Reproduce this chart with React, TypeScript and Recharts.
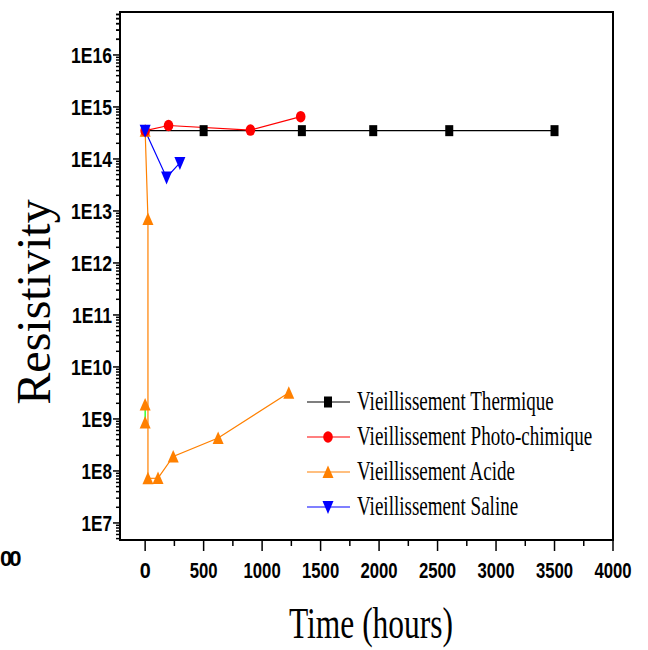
import { LineChart, Line, XAxis, YAxis, Legend, Label, ReferenceArea } from "recharts";

// time in hours, resistivity values
const thermT = [0, 500, 1340, 1950, 2600, 3500];
const thermR = [3.5e14, 3.5e14, 3.5e14, 3.5e14, 3.5e14, 3.5e14];
const photoT = [0, 200, 900, 1330];
const photoR = [3.5e14, 4.4e14, 3.6e14, 6.5e14];
const acideT = [0, 24, 24, 110, 240, 624, 1228];
const acideR = [3.5e14, 7e12, 7.2e7, 7.3e7, 1.9e8, 4.3e8, 3.2e9];
const acide0T = [0, 0];
const acide0R = [1.9e9, 8.5e8];
const salineT = [0, 183, 297];
const salineR = [3.5e14, 4.4e13, 8.4e13];

const xMajor = [0, 500, 1000, 1500, 2000, 2500, 3000, 3500, 4000];
const xMinor = [250, 750, 1250, 1750, 2250, 2750, 3250, 3750];
const yMajor = [1e7, 1e8, 1e9, 1e10, 1e11, 1e12, 1e13, 1e14, 1e15, 1e16];
const yLabels = ["1E7", "1E8", "1E9", "1E10", "1E11", "1E12", "1E13", "1E14", "1E15", "1E16"];
const yMinorMult = [2, 3, 4, 5, 6, 7, 8, 9];

const legendNames = [
  "Vieillissement Thermique",
  "Vieillissement Photo-chimique",
  "Vieillissement Acide",
  "Vieillissement Saline",
];
const colors = ["#000000", "#ff0000", "#ff8000", "#0000ff"];

const toRows = (t: number[], r: number[]) => t.map((v, i) => ({ t: v, r: r[i] }));

const yMinor: number[] = [];
yMajor.forEach((d) => yMinorMult.forEach((m) => yMinor.push(d * m)));
yMinor.unshift(5e6, 6e6, 7e6, 8e6, 9e6);
yMinor.push(2e16, 3e16, 4e16, 5e16, 6e16);
const yTicks = [...yMajor, ...yMinor];
const xTicks = [...xMajor, ...xMinor];

const xDomain = [-215, 4000];
const yDomain = [4.7e6, 6.7e16];

const tickFont = { fontFamily: "'Liberation Sans', Arial, sans-serif", fontWeight: 700, fontSize: 22, fill: "#000" };
const serif = "'Liberation Serif', 'Times New Roman', serif";

function marker(kind: number, cx: number, cy: number, key?: string) {
  const c = colors[kind];
  if (kind === 0) return <rect key={key} x={cx - 4} y={cy - 5.5} width={8} height={11} fill={c} />;
  if (kind === 1) return <ellipse key={key} cx={cx} cy={cy} rx={4.8} ry={5.8} fill={c} />;
  if (kind === 2)
    return <path key={key} d={`M${cx},${cy - 6.5}L${cx + 5.5},${cy + 6}L${cx - 5.5},${cy + 6}Z`} fill={c} />;
  return <path key={key} d={`M${cx},${cy + 7}L${cx + 5.5},${cy - 6}L${cx - 5.5},${cy - 6}Z`} fill={c} />;
}

const dotFor = (kind: number) => (p: any) => marker(kind, p.cx, p.cy, `d${kind}-${p.index}`);

function YTick(props: any) {
  const { x, y, payload } = props;
  if (y < 12) return <g />;
  const i = yMajor.indexOf(payload.value);
  const major = i >= 0;
  const label = major ? yLabels[i] : "";
  const sx = label.length === 4 ? 0.8 : 0.78;
  return (
    <g>
      <line x1={x - (major ? 7 : 4)} x2={x} y1={y} y2={y} stroke="#000" strokeWidth={1.5} />
      {major && (
        <text transform={`translate(${x - 8},${y}) scale(${sx},1)`} dy="0.36em" textAnchor="end" {...tickFont}>
          {label}
        </text>
      )}
    </g>
  );
}

function XTick(props: any) {
  const { x, y, payload } = props;
  const major = xMajor.includes(payload.value);
  const label = String(payload.value);
  return (
    <g>
      <line x1={x} x2={x} y1={y} y2={y + (major ? 11 : 6)} stroke="#000" strokeWidth={1.5} />
      {major && (
        <text transform={`translate(${x},${y + 38}) scale(${label.length === 1 ? 0.9 : 0.76},1)`}
          textAnchor="middle" {...tickFont}>
          {label}
        </text>
      )}
    </g>
  );
}

function LegendBox() {
  return (
    <svg width={320} height={150}>
      {legendNames.map((n, i) => {
        const cy = 22 + i * 35;
        return (
          <g key={n}>
            <line x1={7} x2={50} y1={cy} y2={cy} stroke={colors[i]} strokeWidth={1.2} />
            {marker(i, 28, cy)}
            <text transform={`translate(57,${cy + 8}) scale(0.68,1)`} fontFamily={serif}
              fontSize={28} fill="#000">
              {n}
            </text>
          </g>
        );
      })}
    </svg>
  );
}

export default function App() {
  return (
    <div style={{ position: "absolute", left: 0, top: 0, width: 648, height: 650, background: "#fff" }}>
      <LineChart width={648} height={650} margin={{ top: 12, right: 35, left: 0, bottom: 20 }}>
        <XAxis dataKey="t" type="number" domain={xDomain} allowDataOverflow ticks={xTicks}
          tick={<XTick />} tickSize={0} tickMargin={0} tickLine={false} height={90}
          axisLine={{ stroke: "#000", strokeWidth: 2 }} interval={0}>
          <Label content={() => (
            <text transform="translate(371,638) scale(0.7,1)" textAnchor="middle" fontFamily={serif}
              fontSize={45} fill="#000">Time (hours)</text>
          )} />
        </XAxis>
        <YAxis dataKey="r" type="number" scale="log" domain={yDomain} allowDataOverflow
          ticks={yTicks} tick={<YTick />} tickSize={0} tickMargin={0} tickLine={false} width={120}
          axisLine={{ stroke: "#000", strokeWidth: 2 }} interval={0}>
          <Label content={() => (
            <text transform="translate(50,302) rotate(-90)" textAnchor="middle" fontFamily={serif}
              fontSize={48} fill="#000">Resistivity</text>
          )} />
        </YAxis>
        <ReferenceArea x1={xDomain[0]} x2={xDomain[1]} y1={yDomain[0]} y2={yDomain[1]} fill="none"
          stroke="#000" strokeWidth={2} ifOverflow="visible" />
        <Legend layout="vertical" align="center" verticalAlign="middle" content={<LegendBox />}
          wrapperStyle={{ position: "absolute", left: 300, top: 380, width: 320, height: 150 }} />
        <Line data={toRows(thermT, thermR)} dataKey="r" stroke="#000" strokeWidth={1.2} dot={dotFor(0)}
          isAnimationActive={false} name={legendNames[0]} />
        <Line data={toRows(acide0T, acide0R)} dataKey="r" stroke="#00ff00" strokeWidth={1.2} dot={dotFor(2)}
          isAnimationActive={false} legendType="none" />
        <Line data={toRows(acideT, acideR)} dataKey="r" stroke="#ff8000" strokeWidth={1.2} dot={dotFor(2)}
          isAnimationActive={false} name={legendNames[2]} />
        <Line data={toRows(photoT, photoR)} dataKey="r" stroke="#ff0000" strokeWidth={1.2} dot={dotFor(1)}
          isAnimationActive={false} name={legendNames[1]} />
        <Line data={toRows(salineT, salineR)} dataKey="r" stroke="#0000ff" strokeWidth={1.2} dot={dotFor(3)}
          isAnimationActive={false} name={legendNames[3]} />
      </LineChart>
      <div style={{ position: "absolute", left: 0, top: 546, fontFamily: "'Liberation Sans', Arial, sans-serif",
        fontWeight: 700, fontSize: 22, letterSpacing: -3 }}>00</div>
    </div>
  );
}
